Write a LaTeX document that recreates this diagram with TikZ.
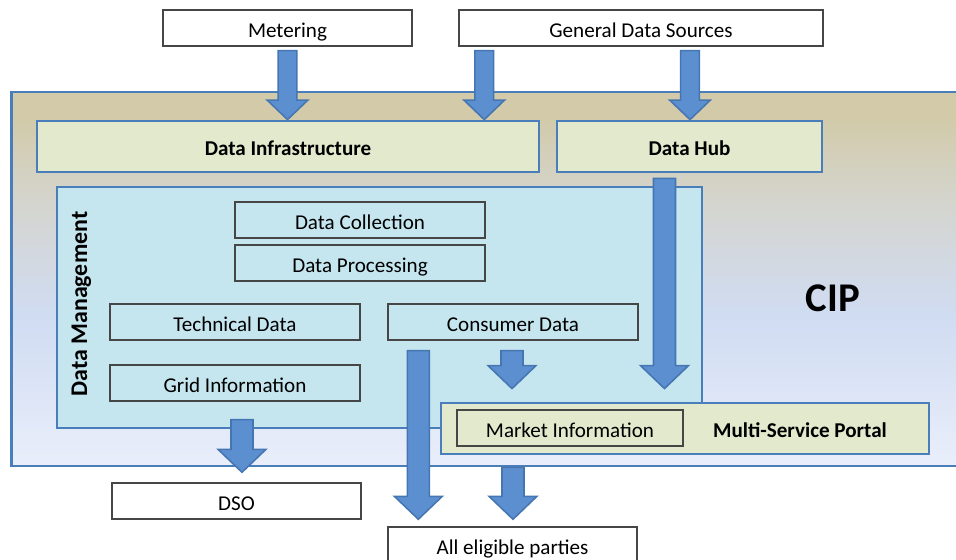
\documentclass[tikz,border=0pt]{standalone}
\usepackage{fontspec}
\setmainfont{Carlito}
\usepackage{tikz}
\usetikzlibrary{calc}
\definecolor{boxblue}{RGB}{74,126,187}
\definecolor{arrowfill}{RGB}{91,143,207}
\definecolor{arrowline}{RGB}{70,118,178}
\definecolor{infracolor}{RGB}{227,233,204}
\definecolor{mgmtcolor}{RGB}{197,230,239}
\definecolor{ciptan}{RGB}{210,202,168}
\definecolor{cipgrey}{RGB}{212,213,207}
\definecolor{cipblue}{RGB}{208,220,242}
\definecolor{cipbottom}{RGB}{233,238,250}
\definecolor{thinline}{RGB}{70,70,70}
\pgfdeclareverticalshading{cipshade}{100bp}{color(0bp)=(cipbottom); color(25bp)=(cipbottom); color(45bp)=(cipblue); color(60bp)=(cipgrey); color(72bp)=(ciptan); color(100bp)=(ciptan)}
% block arrow from start point down to tip, #1 scales the arrow
\newcommand{\blockarrow}[3][1]{%
  \filldraw[fill=arrowfill, draw=arrowline, line width=1.1pt, line join=miter] let \p1=#2, \p2=#3 in
    ({\x1-0.275cm*#1},\y1) -- ({\x1-0.275cm*#1},{\y2+0.575cm*#1}) -- ({\x1-0.6cm*#1},{\y2+0.575cm*#1})
    -- (\x1,\y2) -- ({\x1+0.6cm*#1},{\y2+0.575cm*#1}) -- ({\x1+0.275cm*#1},{\y2+0.575cm*#1})
    -- ({\x1+0.275cm*#1},\y1) -- cycle;}

\begin{document}
\begin{tikzpicture}[
    x=0.025cm, y=-0.025cm,
    every node/.style={font=\fontsize{15}{18}\selectfont, text height=15pt, text depth=2pt},
    source/.style={draw=thinline, line width=1pt, fill=white, minimum height=0.9cm, inner sep=0pt},
    layer/.style={draw=boxblue, line width=2pt, fill=infracolor, minimum height=1.275cm, inner sep=0pt, font=\fontsize{15}{18}\selectfont\bfseries},
    part/.style={draw=thinline, line width=0.9pt, minimum width=6.25cm, minimum height=0.9cm, inner sep=0pt}
]
    \useasboundingbox (0,0) rectangle (956,560);

    % CIP frame
    \node[draw=boxblue, line width=2pt, shading=cipshade, minimum width=23.95cm, minimum height=9.35cm, inner sep=0pt] (cip) at (491,279) {};
    \node[font=\fontsize{29}{34}\selectfont\bfseries, text height=24pt, text depth=0pt] (ciplabel) at (833,295) {CIP};

    % Sources
    \node[source, minimum width=6.225cm] (meter) at (287.5,28) {Metering};
    \node[source, minimum width=9.1cm] (gds) at (641,28) {General Data Sources};

    % Top layer
    \node[layer, minimum width=12.55cm] (infra) at (288,146.5) {Data Infrastructure};
    \node[layer, minimum width=6.625cm] (hub) at (689.5,146.5) {Data Hub};

    % Data Management
    \node[draw=boxblue, line width=2pt, fill=mgmtcolor, minimum width=16.125cm, minimum height=6.025cm, inner sep=0pt] (mgmt) at (379.5,307.5) {};
    \node[rotate=90, font=\fontsize{17}{20}\selectfont\bfseries] (mgmtlabel) at (78,304) {Data Management};
    \node[part] (collect) at (360,220) {Data Collection};
    \node[part] (process) at (360,263) {Data Processing};
    \node[part] (tech) at (235,322) {Technical Data};
    \node[part] (consumer) at (513,322) {Consumer Data};
    \node[part] (grid) at (235,383) {Grid Information};

    % Portal
    \node[layer, minimum width=12.2cm] (portal) at (685,428.5) {};
    \node[font=\fontsize{15}{18}\selectfont\bfseries] (portallabel) at (800,428) {Multi-Service Portal};
    \node[part, minimum width=5.65cm] (market) at (570,428) {Market Information};

    % Consumers
    \node[source, minimum width=6.225cm] (dso) at (236.5,501) {DSO};
    \node[source, minimum width=6.225cm] (parties) at (512.5,545) {All eligible parties};

    % Arrows
    \blockarrow[0.85]{($(meter.south)+(0,4)$)}{(infra.north -| meter.south)}
    \blockarrow[0.85]{($(gds.south west)+(26,4)$)}{(infra.north)}
    \blockarrow[0.85]{($(gds.south)+(49,4)$)}{(hub.north)}
    \blockarrow{($(hub.south)+(-25,5)$)}{($(portal.north)+(0,-13)$)}
    \blockarrow{($(consumer.south)+(-1,10)$)}{($(portal.north)+(0,-13)$)}
    \blockarrow{($(consumer.south west)+(31,10)$)}{($(parties.north)+(0,-7)$)}
    \blockarrow{($(grid.south)+(7,18)$)}{($(dso.north)+(0,-10)$)}
    \blockarrow{(cip.south -| consumer.south)}{($(parties.north)+(0,-7)$)}
\end{tikzpicture}
\end{document}
